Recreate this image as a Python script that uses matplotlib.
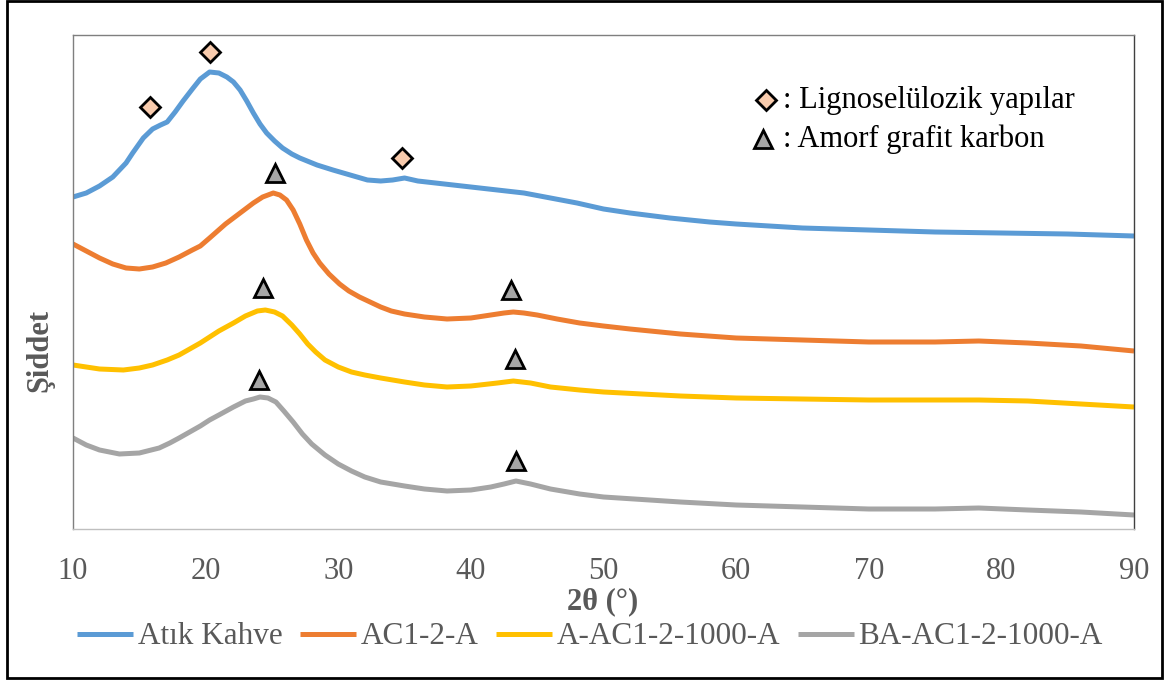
import matplotlib
matplotlib.use("Agg")
import matplotlib.pyplot as plt
from matplotlib.patches import Rectangle

plt.rcParams['font.family'] = ['Liberation Serif', 'DejaVu Serif']

# XRD desenleri (keyfi birim, egriler ust uste kaydirilmis)
tt_kahve = [10, 11, 12, 13, 14, 14.5, 15.3, 16, 16.6, 17.1, 17.7, 18.3, 19, 19.6, 20.3, 21, 21.6,
            22.1, 22.6, 23.1, 23.6, 24.1, 24.6, 25.2, 25.8, 26.5, 27.1, 28.4, 29.6, 30.9, 32.2,
            33.2, 34.1, 35, 36, 38, 40, 42, 44, 46, 48, 50, 52, 55, 58, 60, 65, 70, 75, 80, 85, 90]
i_kahve = [484, 488, 495, 504, 518, 528, 543, 552, 556, 559, 569, 580, 592, 602, 609, 608, 604,
           599, 591, 580, 568, 557, 548, 540, 533, 527, 523, 516, 511, 506, 501,
           500, 501, 503, 500, 497, 494, 491, 488, 483, 478, 472, 468, 463, 459, 457, 453, 451,
           449, 448, 447, 445]

tt_ac = [10, 11, 12, 13, 14, 15, 16, 17, 18, 19, 19.6, 20.3, 20.9, 21.5, 22.1, 22.8, 23.6, 24.3,
         25.1, 25.6, 26.1, 26.6, 27.1, 27.6, 28.1, 28.6, 29.3, 30.1, 30.8, 31.6, 32.4, 33.2, 34,
         35, 36.5, 38.2, 40, 41.5, 42.5, 43.2, 44, 45, 46.5, 48.2, 50, 52, 55.8, 60, 65, 70, 75,
         78.3, 82, 86, 90]
i_ac = [437, 430, 423, 417, 413, 412, 414, 418, 424, 431, 435, 443, 450, 457, 463, 470, 478, 484,
        488, 486, 481, 471, 457, 441, 428, 418, 407, 397, 390, 384, 379, 374, 370,
        367, 364, 362, 363, 366, 368, 369, 368, 366, 362, 358, 355, 352, 347, 343, 341, 339, 339,
        340, 338, 335, 330]

tt_a1000 = [10, 11, 12, 13.8, 15, 16, 17.1, 18, 18.8, 19.6, 20.3, 21, 22.1, 23, 23.9, 24.5, 25.2,
            25.8, 26.5, 27.1, 27.7, 28.3, 29, 30, 31, 32, 33.2, 35, 36.5, 38.2, 40, 42, 43.2, 44.5,
            46, 48.2, 50, 55.8, 60, 65, 70, 75, 78.3, 82, 86, 90]
i_a1000 = [316, 314, 312, 311, 313, 316, 321, 326, 332, 338, 344, 350, 358, 365, 370, 371, 369,
           365, 356, 347, 337, 329, 321, 314, 309, 306, 303, 299, 296, 294, 295, 298, 300, 298,
           294, 291, 289, 285, 283, 282, 281, 281, 281, 280, 277, 274]

tt_ba1000 = [10, 11, 12, 13.5, 15, 16.5, 17.3, 18, 18.8, 19.6, 20.3, 21, 22.1, 23, 23.6, 24.1,
             24.7, 25.3, 25.9, 26.6, 27.3, 28, 29, 30, 31, 32, 33.2, 35, 36.5, 38.2, 40, 41.5,
             42.5, 43.4, 44.5, 46, 48.2, 50, 55.8, 60, 65, 70, 75, 78.3, 82, 86, 90]
i_ba1000 = [243, 236, 231, 227, 228, 233, 238, 243, 249, 255, 261, 266, 274, 280, 282, 284,
            283, 279, 270, 259, 247, 237, 226, 217, 210, 204, 199, 195, 192, 190, 191, 194,
            197, 200, 197, 192, 187, 184, 179, 176, 174, 172, 172, 173, 171, 169, 166]

# pik isaretleri
lig_tt = [15.8, 20.3, 34.8]
lig_i = [574, 629, 523]
amorf_tt = [25.2, 24.3, 43.0, 24.0, 43.3, 43.4]
amorf_i = [508, 393, 391, 301, 322, 220]

seriler = ['Atık Kahve', 'AC1-2-A', 'A-AC1-2-1000-A', 'BA-AC1-2-1000-A']
renkler = ['#5B9BD5', '#ED7D31', '#FFC000', '#A5A5A5']
gri_yazi = '#595959'

fig = plt.figure(figsize=(11.65, 6.81), dpi=100)
ax = fig.add_axes([73 / 1165, 1 - 529 / 681, 1061 / 1165, 494 / 681])

veri = [(tt_kahve, i_kahve), (tt_ac, i_ac), (tt_a1000, i_a1000), (tt_ba1000, i_ba1000)]
for (tt, ii), ad, renk in zip(veri, seriler, renkler):
    ax.plot(tt, ii, color=renk, lw=3.6, label=ad, solid_capstyle='butt', solid_joinstyle='round')

ax.plot(lig_tt, lig_i, 'D', ms=10, mfc='#F8CBAD', mec='black', mew=2, ls='none', clip_on=False)
ax.plot(amorf_tt, amorf_i, '^', ms=13, mfc='#A6A6A6', mec='black', mew=2, ls='none', clip_on=False)

# isaret aciklamalari
ax.plot([0.653], [0.868], 'D', ms=10, mfc='#F8CBAD', mec='black', mew=2, transform=ax.transAxes)
ax.plot([0.650], [0.789], '^', ms=13, mfc='#A6A6A6', mec='black', mew=2, transform=ax.transAxes)
ax.text(0.669, 0.868, ': Lignoselülozik yapılar', transform=ax.transAxes, fontsize=22,
        va='center', ha='left', color='black')
ax.text(0.669, 0.789, ': Amorf grafit karbon', transform=ax.transAxes, fontsize=22,
        va='center', ha='left', color='black')

ax.set_xlim(10, 90)
ax.set_ylim(152, 646)
ax.set_xticks(range(10, 91, 10))
ax.set_yticks([])
ax.tick_params(axis='x', length=0, pad=20, labelsize=22, labelcolor=gri_yazi)
ax.spines['left'].set_color('#7F7F7F')
ax.spines['top'].set_color('#7F7F7F')
ax.spines['bottom'].set_color('#BFBFBF')
ax.spines['right'].set_color('#404040')
for s in ax.spines.values():
    s.set_linewidth(1)

fig.text(603 / 1165, 1 - 602 / 681, '2θ (°)', fontsize=22, fontweight='bold', color=gri_yazi,
         ha='center', va='center')
fig.text(40 / 1165, 1 - 350 / 681, 'Şiddet', fontsize=22, fontweight='bold', color=gri_yazi,
         ha='center', va='center', rotation=90)

fig.legend(loc='center', bbox_to_anchor=(590 / 1165, 1 - 637 / 681), ncol=4, frameon=False,
           fontsize=22.5, handlelength=1.8, handletextpad=0.15, columnspacing=0.55,
           labelcolor=gri_yazi, borderpad=0)

# dis cerceve
fig.patches.append(Rectangle((7 / 1165, 3 / 681), 1155 / 1165, 677 / 681, transform=fig.transFigure,
                             fill=False, ec='black', lw=2))

fig.savefig('out.png', dpi=100)
